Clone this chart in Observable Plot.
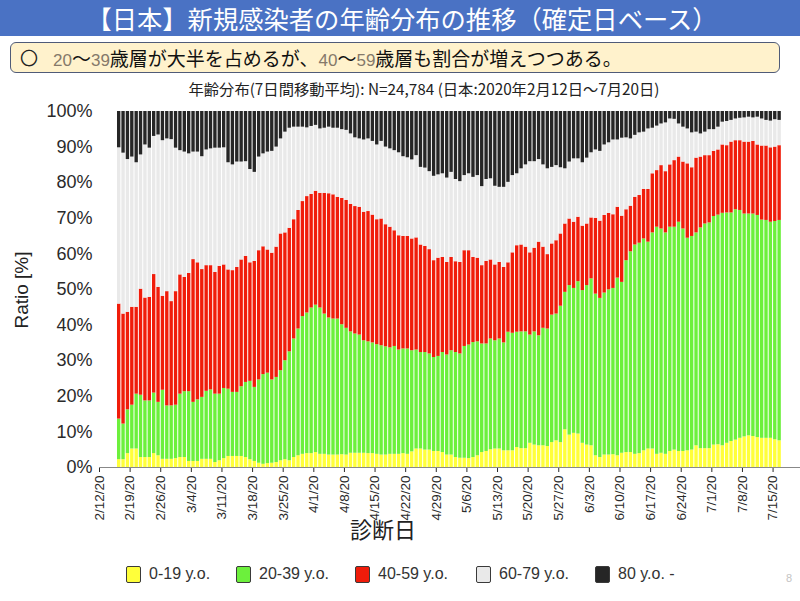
<!DOCTYPE html>
<html>
<head>
<meta charset="utf-8">
<script src="https://cdn.jsdelivr.net/npm/d3@7"></script>
<script src="https://cdn.jsdelivr.net/npm/@observablehq/plot@0.6"></script>
<style>
  html, body { margin: 0; padding: 0; background: #fff; }
  #page { position: relative; width: 800px; height: 601px; overflow: hidden; background: #fff;
          font-family: "Noto Sans CJK JP", "Noto Sans", sans-serif; }
  #band { position: absolute; left: 0; top: 0; width: 800px; height: 36px; background: #4a72c4; }
  #title { position: absolute; left: 0; top: 0; width: 804px; height: 36px; line-height: 36px;
           text-align: center; color: #fff; font-size: 25.3px; white-space: nowrap; }
  #box { position: absolute; left: 10px; top: 42px; width: 770px; height: 31px; box-sizing: border-box;
         background: #fff2cc; border: 1.5px solid #4f5b78; border-radius: 6px; }
  #boxMark { position: absolute; left: 20px; top: 42px; height: 31px; line-height: 31px; font-size: 18px; color: #222; }
  #boxText { position: absolute; left: 53px; top: 42px; height: 31px; line-height: 31px; font-size: 19px; color: #111; white-space: nowrap; }
  #boxText .num { color: #85796a; font-family: "Liberation Sans Narrow", "Liberation Sans", sans-serif; font-size: 17px; }
  #subtitle { position: absolute; left: 24px; top: 77px; width: 800px; text-align: center; font-size: 15.3px; color: #222; white-space: nowrap; }
  #chart { position: absolute; left: 0; top: 95px; }
  #ytitle { position: absolute; left: 22px; top: 290px; transform: translate(-50%, -50%) rotate(-90deg);
            font-family: "Liberation Sans", Arial, sans-serif; font-size: 19px; color: #222; white-space: nowrap; }
  #xtitle { position: absolute; left: 0; top: 512px; width: 766px; text-align: center; font-size: 22px; color: #222; }
  #legend { position: absolute; left: 0; top: 563px; width: 800px; height: 22px; }
  .lg { position: absolute; top: 0; height: 22px; display: flex; align-items: center;
        font-family: "Liberation Sans", Arial, sans-serif; font-size: 16px; color: #333; white-space: nowrap; }
  .sw { width: 15px; height: 17px; border: 1.5px solid #3a3a3a; border-radius: 2px; margin-right: 8px; box-sizing: border-box; }
  #pageno { position: absolute; left: 786px; top: 572px; font-size: 11px; color: #c4c4c4; font-family: "Liberation Sans", sans-serif; }
  #chart g[aria-label^="y-axis"] { font-size: 18px; }
  #chart g[aria-label^="x-axis"] { font-size: 13.5px; }
</style>
</head>
<body>
<div id="page">
  <div id="band"></div>
  <div id="title">【日本】新規感染者の年齢分布の推移（確定日ベース）</div>
  <div id="box"></div>
  <div id="boxMark">〇</div>
  <div id="boxText"><span class="num">20</span>～<span class="num">39</span>歳層が大半を占めるが、<span class="num">40</span>～<span class="num">59</span>歳層も割合が増えつつある。</div>
  <div id="subtitle">年齢分布(7日間移動平均): N=24,784 (日本:2020年2月12日～7月20日)</div>
  <div id="chart"></div>
  <div id="ytitle">Ratio [%]</div>
  <div id="xtitle">診断日</div>
  <div id="legend"></div>
  <div id="pageno">8</div>
</div>
<script>
// ---- data (cumulative share in %; one value per day from 2020-02-16) ----
const firstBarDate = "2020-02-16";
const ageGroups = ["0-19 y.o.", "20-39 y.o.", "40-59 y.o.", "60-79 y.o.", "80 y.o. -"];
const groupColors = ["#ffff3a", "#6cf03c", "#f01c0a", "#e9e9e9", "#262626"];

// top of the 0-19 band
const cumTo19 = [
  2.2, 2.2, 3.9, 5.2, 5.2, 2.8, 2.8, 2.8, 3.9, 3.3, 2.3, 2.3, 2.3, 2.5, 2.8, 2.8, 1.7, 1.7, 1.7, 2.3, 2.3, 2.3, 1.4, 1.9,
  2.5, 3.1, 3.1, 3.1, 3.1, 2.8, 2.2, 1.7, 1.2, 0.9, 1.1, 1.2, 1.4, 1.9, 2.2, 1.9, 2.8, 3.3, 3.7, 3.9, 3.9, 4.2, 3.7, 3.7, 3.5,
  3.5, 3.5, 3.6, 3.5, 4.0, 4.0, 4.0, 4.0, 3.9, 3.9, 3.7, 3.5, 3.5, 3.7, 3.7, 3.7, 3.9, 3.7, 4.4, 5.2, 5.2, 4.9, 4.9, 4.5, 4.5,
  4.2, 3.5, 3.5, 2.8, 2.6, 2.6, 2.5, 2.8, 3.3, 4.2, 4.5, 5.0, 5.2, 5.2, 4.7, 4.7, 4.7, 5.6, 5.3, 5.3, 6.8, 6.3, 6.1, 6.1,
  5.9, 7.0, 7.5, 7.0, 10.6, 9.1, 9.6, 9.4, 6.8, 6.3, 6.1, 3.3, 2.8, 3.5, 3.5, 3.6, 3.3, 4.0, 4.2, 4.2, 3.7, 3.9, 4.7, 5.2, 5.2, 3.7, 4.0,
  3.7, 4.5, 4.9, 4.5, 4.5, 4.7, 4.9, 6.1, 5.3, 5.3, 5.3, 6.3, 6.4, 6.1, 6.8, 7.3, 7.7, 8.2, 8.6, 8.9, 8.7, 8.4, 8.2, 8.2, 8.2, 7.8, 7.5
];
// top of the 20-39 band
const cumTo39 = [
  13.6, 12.2, 16.2, 17.5, 20.6, 20.3, 18.7, 18.7, 20.9, 18.3, 21.7, 17.3, 17.3, 17.5, 20.6, 21.3, 21.3, 18.3, 19.0, 19.7, 21.4, 21.8, 20.6, 20.6,
  22.2, 22.0, 21.1, 21.1, 22.7, 23.9, 24.2, 22.5, 24.6, 26.1, 26.5, 24.6, 25.3, 27.2, 30.0, 32.5, 36.1, 38.9, 42.4, 43.4, 44.8, 45.6, 44.8, 43.1, 42.0,
  41.7, 41.7, 40.1, 39.1, 38.1, 37.5, 37.2, 35.6, 35.3, 35.0, 34.5, 34.2, 33.9, 33.6, 34.0, 33.0, 33.3, 33.3, 32.8, 33.0, 32.3, 32.3, 31.9, 30.9, 31.2,
  32.3, 31.6, 32.8, 32.3, 31.9, 34.0, 34.4, 35.1, 35.3, 34.7, 34.7, 36.1, 35.6, 36.1, 35.0, 38.0, 37.7, 38.0, 38.1, 38.1, 37.2, 38.1, 37.0, 39.1,
  38.9, 42.8, 43.1, 45.3, 49.2, 51.1, 50.3, 52.2, 49.7, 51.1, 53.0, 48.7, 47.5, 49.0, 49.9, 50.3, 53.2, 52.0, 58.1, 60.6, 62.5, 63.0, 64.2, 63.3, 65.9, 67.5, 67.0,
  65.9, 67.5, 67.5, 68.9, 67.0, 64.4, 64.9, 65.9, 67.3, 68.4, 68.7, 70.5, 70.9, 71.4, 71.5, 71.5, 72.4, 72.2, 71.2, 71.2, 71.2, 70.8, 69.5, 69.4, 68.9, 69.1, 69.4
];
// top of the 40-59 band
const cumTo59 = [
  45.9, 43.1, 43.6, 45.0, 45.0, 50.1, 47.6, 47.8, 54.2, 50.6, 48.1, 49.4, 46.6, 49.4, 54.1, 53.4, 54.5, 58.4, 57.5, 55.6, 56.7, 56.7, 54.8, 56.5,
  56.9, 55.5, 55.3, 56.2, 58.3, 59.3, 57.5, 57.9, 60.9, 62.0, 61.1, 60.2, 61.9, 65.6, 65.9, 67.2, 69.6, 72.2, 74.7, 76.1, 76.7, 77.6, 77.0, 77.0, 76.9,
  76.6, 75.9, 75.6, 75.0, 73.9, 73.3, 73.1, 71.7, 71.9, 70.9, 69.6, 69.8, 68.2, 67.5, 66.5, 65.1, 64.9, 64.9, 64.2, 64.5, 62.5, 62.1, 61.2, 58.1, 58.8,
  59.0, 57.6, 59.0, 57.8, 57.6, 60.9, 60.9, 59.0, 58.8, 56.7, 57.9, 58.3, 56.9, 57.6, 56.2, 57.5, 60.3, 62.3, 62.5, 61.9, 60.3, 61.6, 63.3, 61.9,
  59.8, 62.8, 63.7, 65.6, 68.4, 69.8, 68.9, 70.3, 67.8, 68.4, 70.1, 70.0, 69.2, 70.8, 71.4, 71.0, 73.1, 70.6, 72.4, 73.4, 75.9, 76.4, 78.1, 78.1, 82.5, 83.4, 84.8,
  83.1, 85.0, 86.2, 87.2, 85.8, 85.3, 84.2, 86.9, 87.2, 87.6, 87.6, 88.8, 89.2, 90.6, 90.4, 91.4, 91.8, 91.8, 91.4, 91.4, 91.6, 90.6, 90.3, 90.3, 89.8, 90.0, 90.4
];
// top of the 60-79 band
const cumTo79 = [
  89.8, 88.3, 86.5, 87.2, 85.6, 87.8, 90.6, 89.7, 93.0, 93.4, 91.8, 92.3, 92.1, 89.7, 89.0, 88.6, 88.1, 88.6, 88.6, 87.3, 89.2, 89.5, 89.7, 89.7,
  89.8, 85.6, 85.0, 85.8, 85.8, 85.9, 83.7, 82.9, 87.2, 88.1, 88.6, 88.8, 90.0, 92.3, 94.2, 95.3, 95.6, 95.6, 95.6, 95.4, 95.8, 96.1, 95.1, 95.3, 95.6,
  95.3, 95.3, 94.9, 94.7, 93.7, 92.6, 92.3, 92.0, 92.3, 91.6, 90.6, 91.6, 90.0, 89.5, 89.0, 88.4, 87.3, 87.0, 86.4, 87.6, 84.3, 84.1, 83.1, 81.8, 82.2,
  82.5, 81.3, 82.9, 80.9, 80.3, 82.0, 82.5, 81.5, 82.0, 78.9, 80.9, 81.1, 79.0, 78.7, 78.7, 80.1, 82.0, 82.5, 83.9, 85.0, 85.9, 85.9, 86.5, 85.0,
  83.9, 84.3, 84.8, 84.2, 83.9, 85.8, 86.7, 86.7, 85.6, 86.9, 88.4, 89.2, 88.8, 90.6, 91.2, 92.0, 92.0, 92.5, 92.6, 92.3, 93.3, 94.0, 94.2, 95.1, 95.3, 95.9, 96.5,
  96.8, 97.9, 97.8, 96.5, 95.6, 95.1, 94.0, 94.2, 93.7, 94.2, 94.9, 94.9, 95.6, 97.0, 97.2, 97.5, 97.9, 98.1, 98.2, 98.4, 98.2, 98.4, 97.9, 97.5, 97.3, 97.7, 97.5
];

const xTickLabels = ["2/12/20", "2/19/20", "2/26/20", "3/4/20", "3/11/20", "3/18/20", "3/25/20", "4/1/20",
  "4/8/20", "4/15/20", "4/22/20", "4/29/20", "5/6/20", "5/13/20", "5/20/20", "5/27/20", "6/3/20", "6/10/20",
  "6/17/20", "6/24/20", "7/1/20", "7/8/20", "7/15/20"];
const yTickValues = [0, 10, 20, 30, 40, 50, 60, 70, 80, 90, 100];

// ---- build table ----
const DAY = 864e5;
const t0 = new Date(firstBarDate + "T00:00:00Z").getTime();
const rows = [];
cumTo19.forEach((v, i) => {
  const bounds = [0, cumTo19[i], cumTo39[i], cumTo59[i], cumTo79[i], 100];
  const d1 = new Date(t0 + i * DAY), d2 = new Date(t0 + (i + 1) * DAY);
  ageGroups.forEach((g, k) => rows.push({date: d1, date2: d2, group: g, y1: bounds[k], y2: bounds[k + 1]}));
});

const parseLabel = s => { const [m, d, y] = s.split("/").map(Number); return new Date(Date.UTC(2000 + y, m - 1, d)); };
const tickDates = xTickLabels.map(parseLabel);
const labelByTime = new Map(tickDates.map((d, i) => [d.getTime(), xTickLabels[i]]));

const xStart = Date.UTC(2020, 1, 12);
const xEnd = xStart + 160.27 * DAY;

const chart = Plot.plot({
  width: 800,
  height: 450,
  marginTop: 16,
  marginBottom: 78,
  marginLeft: 99,
  marginRight: 0,
  style: {fontFamily: '"Liberation Sans", Arial, sans-serif', fontSize: "13.5px", color: "#2a2a2a", background: "transparent", overflow: "visible"},
  x: {type: "utc", domain: [new Date(xStart), new Date(xEnd)], ticks: tickDates,
      tickFormat: d => labelByTime.get(d.getTime()) ?? "", tickRotate: -90, tickSize: 5, tickPadding: 3, label: null},
  y: {domain: [0, 100], ticks: yTickValues, tickFormat: d => d + "%", tickSize: 0, tickPadding: 7, label: null},
  color: {domain: ageGroups, range: groupColors},
  marks: [
    Plot.rect(rows, {x1: "date", x2: "date2", y1: "y1", y2: "y2", fill: "group", insetLeft: 0.5, insetRight: 0.5}),
    Plot.ruleY([0], {stroke: "#888", strokeWidth: 1.2})
  ]
});
document.getElementById("chart").appendChild(chart);

// ---- legend (HTML) ----
const legendLefts = [126, 236, 355, 476, 595];
const legend = document.getElementById("legend");
ageGroups.forEach((g, k) => {
  const item = document.createElement("div");
  item.className = "lg";
  item.style.left = legendLefts[k] + "px";
  const sw = document.createElement("div");
  sw.className = "sw";
  sw.style.background = groupColors[k];
  const tx = document.createElement("span");
  tx.textContent = g;
  item.appendChild(sw); item.appendChild(tx);
  legend.appendChild(item);
});
</script>
</body>
</html>
